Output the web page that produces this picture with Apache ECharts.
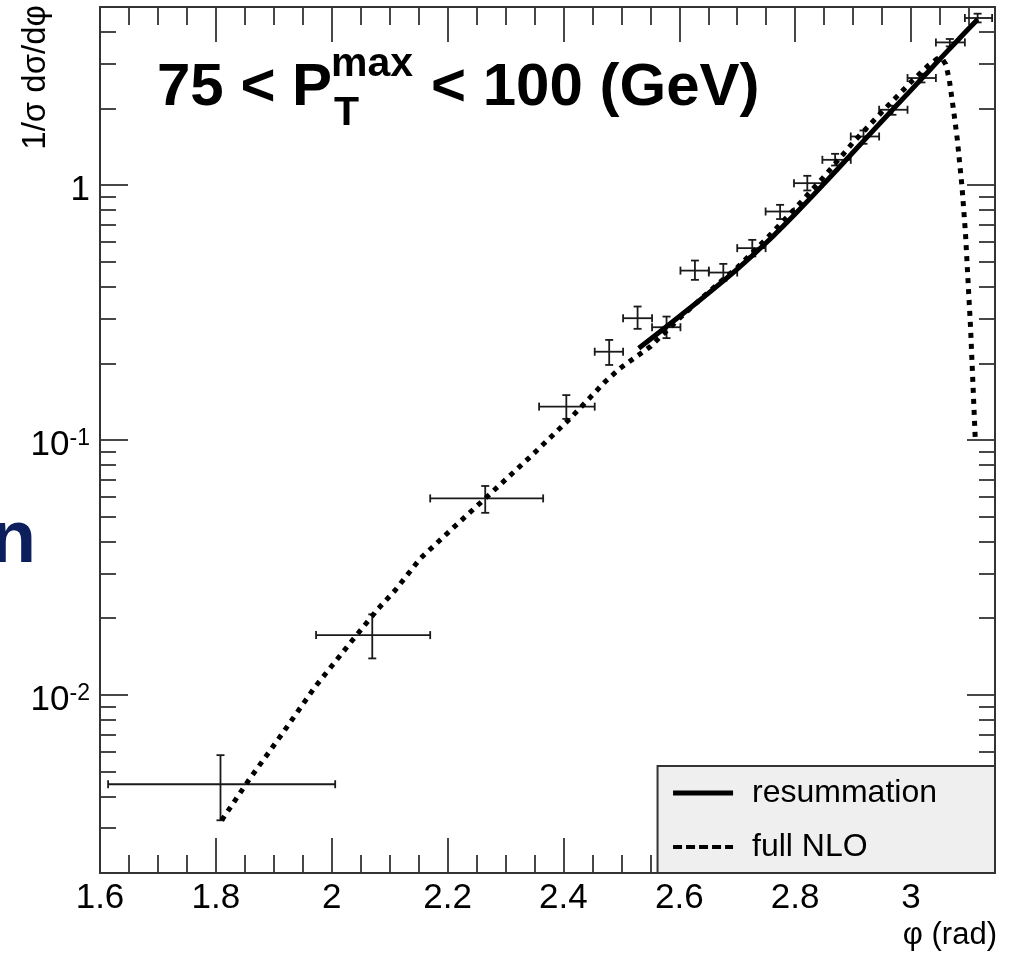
<!DOCTYPE html>
<html>
<head>
<meta charset="utf-8">
<script src="https://cdn.jsdelivr.net/npm/echarts@6/dist/echarts.min.js"></script>
<style>
html,body{margin:0;padding:0;background:#fff;}
#chart{width:1018px;height:953px;}
</style>
</head>
<body>
<div id="chart"></div>
<script>
// ---------- data ----------
// measured points (phi in rad, 1/sigma dsigma/dphi)
const phiCenter = [1.808, 2.070, 2.265, 2.405, 2.479, 2.528, 2.578, 2.627, 2.676, 2.726, 2.774, 2.821, 2.869, 2.918, 2.968, 3.018, 3.067, 3.115];
const phiLow    = [1.614, 1.973, 2.170, 2.358, 2.454, 2.503, 2.553, 2.602, 2.651, 2.700, 2.749, 2.798, 2.847, 2.896, 2.945, 2.994, 3.043, 3.093];
const phiHigh   = [2.006, 2.170, 2.365, 2.454, 2.503, 2.553, 2.602, 2.651, 2.700, 2.749, 2.798, 2.847, 2.896, 2.945, 2.994, 3.043, 3.093, 3.140];
const yValue    = [0.00446, 0.01716, 0.0590, 0.1352, 0.222, 0.3005, 0.277, 0.462, 0.454, 0.566, 0.788, 1.018, 1.257, 1.552, 1.976, 2.632, 3.631, 4.527];
const yLow      = [0.00322, 0.0139, 0.0518, 0.121, 0.197, 0.273, 0.251, 0.425, 0.421, 0.525, 0.736, 0.953, 1.194, 1.453, 1.888, 2.529, 3.503, 4.35];
const yHigh     = [0.0058, 0.0207, 0.066, 0.150, 0.247, 0.334, 0.305, 0.506, 0.491, 0.610, 0.837, 1.088, 1.327, 1.639, 2.049, 2.736, 3.745, 4.707];

// resummation curve
const resumPhi = [2.530, 2.600, 2.650, 2.700, 2.750, 2.800, 2.850, 2.900, 2.950, 3.000, 3.030, 3.060, 3.090, 3.115];
const resumY   = [0.229, 0.305, 0.376, 0.468, 0.594, 0.771, 1.014, 1.346, 1.786, 2.360, 2.793, 3.304, 3.899, 4.467];

// full NLO curve
const nloPhi = [1.810, 1.856, 1.914, 1.971, 2.029, 2.078, 2.110, 2.153, 2.210, 2.265, 2.343, 2.412, 2.472, 2.498, 2.550, 2.600, 2.650, 2.700, 2.750, 2.800, 2.850, 2.900, 2.950, 3.000, 3.030, 3.045, 3.053, 3.060, 3.066, 3.071, 3.076, 3.080, 3.088, 3.094, 3.103, 3.111];
const nloY   = [0.00322, 0.0046, 0.00701, 0.01073, 0.01568, 0.0215, 0.0258, 0.0343, 0.0453, 0.059, 0.086, 0.1217, 0.1694, 0.1913, 0.2325, 0.300, 0.380, 0.475, 0.615, 0.810, 1.080, 1.470, 1.940, 2.540, 2.950, 3.130, 3.150, 2.980, 2.600, 2.160, 1.780, 1.507, 0.988, 0.650, 0.270, 0.100];

// axes
const xRange = [1.6, 3.145];
const yRange = [0.002, 5];
const xMajorTicks = [1.6, 1.8, 2.0, 2.2, 2.4, 2.6, 2.8, 3.0];
const xTickLabels = ['1.6', '1.8', '2', '2.2', '2.4', '2.6', '2.8', '3'];
const xMinorTicks = [1.65, 1.7, 1.75, 1.85, 1.9, 1.95, 2.05, 2.1, 2.15, 2.25, 2.3, 2.35, 2.45, 2.5, 2.55, 2.65, 2.7, 2.75, 2.85, 2.9, 2.95, 3.05, 3.1];
const yMajorTicks = [0.01, 0.1, 1];
const yTickLabels = [['10', '-2'], ['10', '-1'], ['1', '']];
const yMinorTicks = [0.003, 0.004, 0.005, 0.006, 0.007, 0.008, 0.009,
                     0.02, 0.03, 0.04, 0.05, 0.06, 0.07, 0.08, 0.09,
                     0.2, 0.3, 0.4, 0.5, 0.6, 0.7, 0.8, 0.9, 2, 3, 4];
const seriesNames = ['resummation', 'full NLO'];

// ---------- chart ----------
const lg = v => Math.log10(v);
const FONT = 'Liberation Sans, Arial, Helvetica, sans-serif';
const FRAME = '#333';

const chart = echarts.init(document.getElementById('chart'), null, {renderer: 'canvas'});

function xAxisDef(pos, ticks, len, main) {
  return {
    type: 'value', position: pos, min: xRange[0], max: xRange[1],
    axisLine: {show: main, onZero: false, lineStyle: {color: FRAME, width: 2}},
    axisTick: {show: true, inside: true, length: len, customValues: ticks, lineStyle: {color: FRAME, width: 1.8}},
    axisLabel: {show: main && pos === 'bottom', customValues: xMajorTicks, margin: 8,
      fontFamily: FONT, fontSize: 35, color: '#000',
      formatter: v => { const i = xMajorTicks.findIndex(t => Math.abs(t - v) < 1e-6); return i >= 0 ? xTickLabels[i] : ''; }},
    splitLine: {show: false}
  };
}
function yAxisDef(pos, ticks, len, main) {
  return {
    type: 'value', position: pos, min: lg(yRange[0]), max: lg(yRange[1]),
    axisLine: {show: main, onZero: false, lineStyle: {color: FRAME, width: 2}},
    axisTick: {show: true, inside: true, length: len, customValues: ticks.map(lg), lineStyle: {color: FRAME, width: 1.8}},
    axisLabel: {show: main && pos === 'left', customValues: yMajorTicks.map(lg), margin: 10,
      fontFamily: FONT, fontSize: 35, color: '#000',
      formatter: v => {
        const i = yMajorTicks.findIndex(t => Math.abs(lg(t) - v) < 1e-6);
        if (i < 0) return '';
        const p = yTickLabels[i];
        return p[1] ? '{b|' + p[0] + '}{s|' + p[1] + '}' : '{b|' + p[0] + '}';
      },
      rich: {
        b: {fontFamily: FONT, fontSize: 35, color: '#000', padding: [10, 0, 0, 0]},
        s: {fontFamily: FONT, fontSize: 23, color: '#000', verticalAlign: 'top', padding: [10, 0, 0, 0]}
      }},
    splitLine: {show: false}
  };
}

const points = phiCenter.map((x, i) => [x, lg(yValue[i]), phiLow[i], phiHigh[i], lg(yLow[i]), lg(yHigh[i])]);

const option = {
  animation: false,
  backgroundColor: '#fff',
  color: ['#000', '#000', '#000'],
  grid: {left: 100, right: 23, top: 7, bottom: 80, containLabel: false},
  xAxis: [
    xAxisDef('bottom', xMajorTicks, 35, true),
    xAxisDef('bottom', xMinorTicks, 18, false),
    xAxisDef('top', xMajorTicks, 35, true),
    xAxisDef('top', xMinorTicks, 18, false)
  ],
  yAxis: [
    yAxisDef('left', yMajorTicks, 28, true),
    yAxisDef('left', yMinorTicks, 16, false),
    yAxisDef('right', yMajorTicks, 28, true),
    yAxisDef('right', yMinorTicks, 16, false)
  ],
  legend: {
    show: true, orient: 'vertical', right: 23, bottom: 80,
    backgroundColor: '#efefef', borderColor: FRAME, borderWidth: 2, borderRadius: 0,
    padding: [11, 58, 10, 13],
    itemWidth: 60, itemHeight: 32, itemGap: 22,
    textStyle: {fontFamily: FONT, fontSize: 32, color: '#000', padding: [0, 0, 0, 14]},
    data: [
      {name: seriesNames[0], itemStyle: {opacity: 0}, lineStyle: {width: 5, type: 'solid', color: '#000'}},
      {name: seriesNames[1], itemStyle: {opacity: 0}, lineStyle: {width: 4, type: [9, 4], color: '#000'}}
    ],
    selectedMode: false
  },
  series: [
    {
      name: 'data', type: 'custom', xAxisIndex: 0, yAxisIndex: 0, z: 3,
      encode: {x: [0, 2, 3], y: [1, 4, 5]},
      data: points,
      renderItem: function (params, api) {
        const x = api.value(0), y = api.value(1);
        const c = api.coord([x, y]);
        const l = api.coord([api.value(2), y]);
        const h = api.coord([api.value(3), y]);
        const lo = api.coord([x, api.value(4)]);
        const hi = api.coord([x, api.value(5)]);
        const st = {stroke: '#1a1a1a', lineWidth: 1.8, fill: null};
        const cap = 4;
        const seg = (x1, y1, x2, y2) => ({type: 'line', shape: {x1, y1, x2, y2}, style: st});
        return {type: 'group', children: [
          seg(l[0], c[1], h[0], c[1]),
          seg(l[0], c[1] - cap, l[0], c[1] + cap),
          seg(h[0], c[1] - cap, h[0], c[1] + cap),
          seg(c[0], hi[1], c[0], lo[1]),
          seg(c[0] - cap, hi[1], c[0] + cap, hi[1]),
          seg(c[0] - cap, lo[1], c[0] + cap, lo[1])
        ]};
      }
    },
    {
      name: seriesNames[1], type: 'line', xAxisIndex: 0, yAxisIndex: 0, z: 4,
      data: nloPhi.map((x, i) => [x, lg(nloY[i])]),
      symbol: 'none', smooth: false, color: '#000',
      itemStyle: {color: '#000'},
      lineStyle: {color: '#000', width: 5, type: [5, 6], cap: 'butt', join: 'round'}
    },
    {
      name: seriesNames[0], type: 'line', xAxisIndex: 0, yAxisIndex: 0, z: 5,
      data: resumPhi.map((x, i) => [x, lg(resumY[i])]),
      symbol: 'none', smooth: 0.2, color: '#000',
      itemStyle: {color: '#000'},
      lineStyle: {color: '#000', width: 5, type: 'solid'}
    }
  ],
  graphic: [
    {type: 'text', x: 157, y: 88.2, z: 10, style: {text: '75 < P', font: 'bold 60px ' + FONT, fill: '#000', textAlign: 'left', textVerticalAlign: 'middle', align: 'left', verticalAlign: 'middle'}},
    {type: 'text', x: 331, y: 64.8, z: 10, style: {text: 'max', font: 'bold 41px ' + FONT, fill: '#000', textAlign: 'left', textVerticalAlign: 'middle', align: 'left', verticalAlign: 'middle'}},
    {type: 'text', x: 334, y: 113.8, z: 10, style: {text: 'T', font: 'bold 41px ' + FONT, fill: '#000', textAlign: 'left', textVerticalAlign: 'middle', align: 'left', verticalAlign: 'middle'}},
    {type: 'text', x: 431, y: 88.2, z: 10, style: {text: '< 100 (GeV)', font: 'bold 60px ' + FONT, fill: '#000', textAlign: 'left', textVerticalAlign: 'middle', align: 'left', verticalAlign: 'middle'}},
    {type: 'text', x: 36, y: 541, z: 10, style: {text: 'n', font: 'bold 75px ' + FONT, fill: '#0c1f5c', textAlign: 'right', textVerticalAlign: 'middle', align: 'right', verticalAlign: 'middle'}},
    {type: 'text', x: 35.6, y: 5, rotation: Math.PI / 2, z: 10, style: {text: '1/σ dσ/dφ', font: '33px ' + FONT, fill: '#000', textAlign: 'right', textVerticalAlign: 'middle', align: 'right', verticalAlign: 'middle'}},
    {type: 'text', x: 997, y: 935, z: 10, style: {text: 'φ (rad)', font: '31px ' + FONT, fill: '#000', textAlign: 'right', textVerticalAlign: 'middle', align: 'right', verticalAlign: 'middle'}}
  ]
};
chart.setOption(option);
</script>
</body>
</html>
